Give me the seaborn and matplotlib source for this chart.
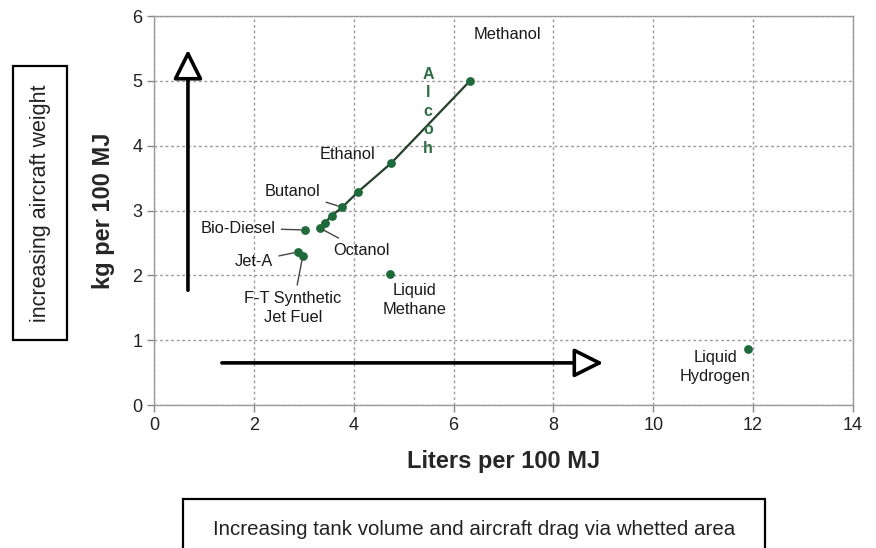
"""Fuel energy density: volume vs weight per 100 MJ."""

import matplotlib.pyplot as plt
import pandas as pd
import seaborn as sns
from matplotlib.patches import Rectangle

# ---- data ----
fuels = ["Methanol", "Ethanol", "Propanol", "Butanol", "Pentanol", "Hexanol",
         "Octanol", "Bio-Diesel", "Jet-A", "F-T Synthetic\nJet Fuel",
         "Liquid\nMethane", "Liquid\nHydrogen"]
liters = [6.33, 4.75, 4.09, 3.77, 3.56, 3.42, 3.32, 3.02, 2.88, 2.98, 4.73, 11.9]
kg = [5.00, 3.73, 3.29, 3.05, 2.92, 2.81, 2.73, 2.70, 2.36, 2.30, 2.02, 0.86]
alcohols = ["Methanol", "Ethanol", "Propanol", "Butanol", "Pentanol", "Hexanol", "Octanol"]
x_ticks = [0, 2, 4, 6, 8, 10, 12, 14]
y_ticks = [0, 1, 2, 3, 4, 5, 6]

DOT = "#1f6a3b"
GREEN_TXT = "#2f6e45"
GRID = "#9a9a9a"
INK = "#1a1a1a"
FONT = ["Liberation Sans", "DejaVu Sans"]


def main() -> None:
    sns.set_theme(style="white")
    plt.rcParams["font.family"] = FONT

    df = pd.DataFrame({"fuel": fuels, "liters": liters, "kg": kg})
    alc = df[df["fuel"].isin(alcohols)].sort_values("liters")

    fig = plt.figure(figsize=(8.76, 5.48), dpi=100)
    ax = fig.add_axes([0.1758, 0.2609, 0.7979, 0.7099])

    # alcohol trend line and the points
    sns.lineplot(data=alc, x="liters", y="kg", sort=True, estimator=None,
                 color="#24402c", linewidth=1.6, ax=ax, zorder=2)
    sns.scatterplot(data=df, x="liters", y="kg", color=DOT, s=40,
                    edgecolor=DOT, linewidth=0, ax=ax, zorder=3)

    ax.set_xlim(0, 14)
    ax.set_ylim(0, 6)
    ax.set_xticks(x_ticks)
    ax.set_yticks(y_ticks)
    ax.tick_params(axis="both", labelsize=13, labelcolor="#222222", length=5,
                   width=1, direction="out", left=True, bottom=True, color="#888888")
    ax.grid(True, linestyle=(0, (2, 2)), color=GRID, linewidth=1)
    for sp in ax.spines.values():
        sp.set_color("#999999")
        sp.set_linewidth(1)
    ax.set_xlabel("Liters per 100 MJ", fontsize=17, fontweight="bold", labelpad=12)
    ax.set_ylabel("kg per 100 MJ", fontsize=17, fontweight="bold", labelpad=12)

    pts = dict(zip(fuels, zip(liters, kg)))
    lab = dict(fontsize=11.8, color=INK, ha="center", va="center")
    # labels without leader lines
    ax.text(6.41, 5.72, "Methanol", ha="left", va="center", fontsize=11.8, color=INK)
    ax.text(3.87, 3.87, "Ethanol", **lab)
    ax.text(5.21, 1.62, "Liquid\nMethane", linespacing=1.3, **lab)
    ax.text(11.24, 0.59, "Liquid\nHydrogen", linespacing=1.3, **lab)

    # labels with leader lines
    leaders = [
        ("Butanol", (2.77, 3.29)),
        ("Octanol", (4.15, 2.39)),
        ("Bio-Diesel", (1.68, 2.73)),
        ("Jet-A", (2.00, 2.22)),
        ("F-T Synthetic\nJet Fuel", (2.78, 1.50)),
    ]
    for name, pos in leaders:
        ax.annotate(name, xy=pts[name], xytext=pos, linespacing=1.3,
                    arrowprops=dict(arrowstyle="-", color="#444444", lw=1,
                                    shrinkA=2, shrinkB=3),
                    **lab)

    ax.text(5.49, 4.53, "A\nl\nc\no\nh", fontsize=11.5, fontweight="bold",
            color=GREEN_TXT, ha="center", va="center", linespacing=1.3)

    # direction arrows with open heads
    arrow = dict(arrowstyle="-|>,head_length=1.0,head_width=0.5", mutation_scale=18,
                 lw=2.6, ec="black", fc="white", shrinkA=0, shrinkB=0)
    ax.annotate("", xy=(0.68, 5.48), xytext=(0.68, 1.77), arrowprops=arrow)
    ax.annotate("", xy=(9.0, 0.65), xytext=(1.36, 0.65), arrowprops=arrow)

    # boxed captions outside the axes
    fig.patches.append(Rectangle((0.0148, 0.3796), 0.0617, 0.5, transform=fig.transFigure,
                                 fill=False, ec="black", lw=1.6))
    fig.text(0.0457, 0.6296, "increasing aircraft weight", rotation=90,
             ha="center", va="center", fontsize=15.5, color="#222222")
    fig.patches.append(Rectangle((0.2089, -0.05), 0.6644, 0.1394, transform=fig.transFigure,
                                 fill=False, ec="black", lw=1.6))
    fig.text(0.541, 0.033, "Increasing tank volume and aircraft drag via whetted area",
             ha="center", va="center", fontsize=14.8, color="#222222")

    fig.savefig("out.png", dpi=100, facecolor="white")
    plt.close(fig)


if __name__ == "__main__":
    main()
